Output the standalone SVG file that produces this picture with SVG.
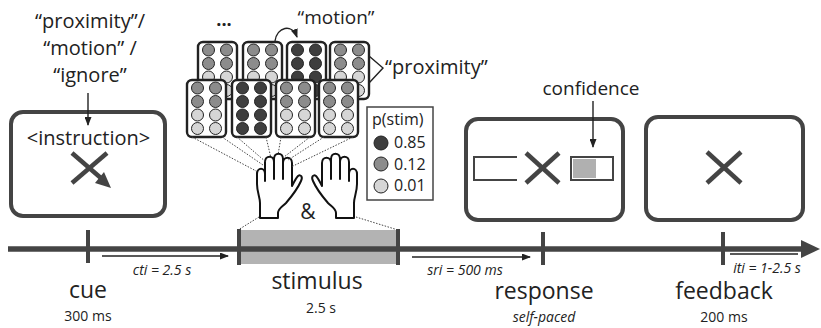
<svg xmlns="http://www.w3.org/2000/svg" xmlns:xlink="http://www.w3.org/1999/xlink" width="821" height="328" viewBox="0 0 821 328">
  <style>
    text { font-family: "Open Sans", "Liberation Sans", sans-serif; fill: #222; }
    .big { font-size: 23px; }
    .mid { font-size: 20px; }
    .small { font-size: 14px; }
    .ital { font-size: 14px; font-style: italic; }
    .box { fill: #fff; stroke: #444; stroke-width: 4; }
    .cross { stroke: #444; stroke-width: 4.5; fill: none; }
    .grid { fill: #fff; stroke: #222; stroke-width: 2.4; }
    .dot { stroke: #222; stroke-width: 1; }
    .d-hi { fill: #3e3e3e; }
    .d-mid { fill: #8c8c8c; }
    .d-lo { fill: #d6d6d6; }
    .thin { stroke: #222; stroke-width: 1.4; fill: none; }
    .dotted { stroke: #444; stroke-width: 1; stroke-dasharray: 1.5 1.5; fill: none; }
    .axis { stroke: #444; stroke-width: 5.5; fill: none; }
    .tick { stroke: #444; stroke-width: 4; }
    .hand { fill: #fff; stroke: #111; stroke-width: 2; stroke-linejoin: round; }
  </style>
  <defs>
    <marker id="head" markerUnits="userSpaceOnUse" markerWidth="9" markerHeight="7" refX="8" refY="3.5" orient="auto">
      <path d="M0,0 L9,3.5 L0,7 z" fill="#222"/>
    </marker>
    <!-- 2x4 stimulus grid: two mid rows, two low rows -->
    <g id="gridMix">
      <rect class="grid" x="0" y="0" width="39" height="57" rx="5"/>
      <circle class="dot d-mid" cx="10.5" cy="8" r="6"/><circle class="dot d-mid" cx="28.5" cy="8" r="6"/>
      <circle class="dot d-mid" cx="10.5" cy="21.5" r="6"/><circle class="dot d-mid" cx="28.5" cy="21.5" r="6"/>
      <circle class="dot d-lo" cx="10.5" cy="35" r="6"/><circle class="dot d-lo" cx="28.5" cy="35" r="6"/>
      <circle class="dot d-lo" cx="10.5" cy="48.5" r="6"/><circle class="dot d-lo" cx="28.5" cy="48.5" r="6"/>
    </g>
    <!-- 2x4 stimulus grid: all high -->
    <g id="gridHigh">
      <rect class="grid" x="0" y="0" width="39" height="57" rx="5"/>
      <circle class="dot d-hi" cx="10.5" cy="8" r="6"/><circle class="dot d-hi" cx="28.5" cy="8" r="6"/>
      <circle class="dot d-hi" cx="10.5" cy="21.5" r="6"/><circle class="dot d-hi" cx="28.5" cy="21.5" r="6"/>
      <circle class="dot d-hi" cx="10.5" cy="35" r="6"/><circle class="dot d-hi" cx="28.5" cy="35" r="6"/>
      <circle class="dot d-hi" cx="10.5" cy="48.5" r="6"/><circle class="dot d-hi" cx="28.5" cy="48.5" r="6"/>
    </g>
    <!-- left hand, palm view, thumb to the right -->
    <path id="hand" class="hand" d="M 260 218 L 260 203 C 260 197 257 192 257 184 L 257 174 C 257 167 265 167 265 174 L 265 181 L 265 162 C 265 155 274 155 274 162 L 274 179 L 274 159 C 274 152 283 152 283 159 L 283 179 L 283 163 C 283 156 292 156 292 163 L 292 186 C 294 182 296 178 298 176 C 301 174 303 177 301 181 C 298 188 292 196 286 203 C 282 207 278 209 278 213 L 278 218 Z"/>
  </defs>

  <!-- timeline -->
  <g id="timeline">
    <rect x="238" y="230" width="160" height="34" fill="#b3b3b3"/>
    <line class="axis" x1="8" y1="249" x2="805" y2="249"/>
    <polygon points="801,240 820,249 801,258" fill="#444"/>
    <line class="tick" x1="88" y1="230" x2="88" y2="263"/>
    <line class="tick" x1="239" y1="229" x2="239" y2="265"/>
    <line class="tick" x1="398" y1="229" x2="398" y2="265"/>
    <line class="tick" x1="543" y1="232" x2="543" y2="265"/>
    <line class="tick" x1="723" y1="232" x2="723" y2="265"/>
  </g>

  <!-- cue -->
  <g id="cue">
    <text class="mid" x="90" y="28" text-anchor="middle">“proximity”/</text>
    <text class="mid" x="90" y="55" text-anchor="middle">“motion” /</text>
    <text class="mid" x="90" y="82" text-anchor="middle">“ignore”</text>
    <rect class="box" x="11" y="112" width="154" height="104" rx="12"/>
    <text class="mid" x="88.5" y="145" text-anchor="middle">&lt;instruction&gt;</text>
    <line class="cross" x1="107" y1="153" x2="72" y2="183"/>
    <line class="cross" x1="72" y1="153" x2="102" y2="179"/>
    <polygon points="111,188 95,183 104,172" fill="#444"/>
    <text class="big" x="88" y="298" text-anchor="middle">cue</text>
    <text class="small" x="88" y="321" text-anchor="middle">300 ms</text>
  </g>

  <!-- stimulus -->
  <g id="stimulus">
    <text x="224" y="26" text-anchor="middle" font-size="18" font-weight="bold">...</text>
    <text x="336" y="24" text-anchor="middle" font-size="19">“motion”</text>
    <text class="mid" x="385" y="74">“proximity”</text>
    <use xlink:href="#gridMix" x="198" y="42"/>
    <use xlink:href="#gridMix" x="243" y="42"/>
    <use xlink:href="#gridHigh" x="287" y="42"/>
    <use xlink:href="#gridMix" x="330" y="42"/>
    <use xlink:href="#gridMix" x="187" y="80"/>
    <use xlink:href="#gridHigh" x="232" y="80"/>
    <use xlink:href="#gridMix" x="276" y="80"/>
    <use xlink:href="#gridMix" x="319" y="80"/>
    <use xlink:href="#hand"/>
    <use xlink:href="#hand" transform="translate(614,0) scale(-1,1)"/>
    <text x="308" y="219" text-anchor="middle" font-size="21">&amp;</text>
    <text class="big" x="317" y="289" text-anchor="middle">stimulus</text>
    <text class="small" x="321" y="313" text-anchor="middle">2.5 s</text>
  </g>

  <!-- probability legend -->
  <g id="legend">
    <rect x="367" y="107" width="66" height="93" fill="#fff" stroke="#444" stroke-width="1.5"/>
    <text x="372" y="125" font-size="16">p(stim)</text>
    <circle class="dot d-hi" cx="381" cy="143" r="7"/>
    <circle class="dot d-mid" cx="381" cy="164" r="7"/>
    <circle class="dot d-lo" cx="381" cy="186" r="7"/>
    <text x="394" y="148" font-size="16">0.85</text>
    <text x="394" y="170" font-size="16">0.12</text>
    <text x="394" y="191" font-size="16">0.01</text>
  </g>

  <!-- response -->
  <g id="response">
    <text x="591" y="95" text-anchor="middle" font-size="19">confidence</text>
    <rect class="box" x="466" y="119" width="157" height="101" rx="12"/>
    <path d="M 517 157 L 474 157 L 474 180 L 517 180" fill="none" stroke="#444" stroke-width="2"/>
    <rect x="571" y="157" width="42" height="23" fill="#fff" stroke="#444" stroke-width="2"/>
    <rect x="573" y="159" width="23" height="19" fill="#b0b0b0"/>
    <line class="cross" x1="526" y1="153" x2="559" y2="183"/>
    <line class="cross" x1="559" y1="153" x2="526" y2="183"/>
    <text class="big" x="544" y="299" text-anchor="middle">response</text>
    <text x="544" y="322" text-anchor="middle" font-size="14" font-style="italic">self-paced</text>
  </g>

  <!-- feedback -->
  <g id="feedback">
    <rect class="box" x="646" y="117" width="157" height="103" rx="12"/>
    <line class="cross" x1="707" y1="152" x2="741" y2="183"/>
    <line class="cross" x1="741" y1="152" x2="707" y2="183"/>
    <text class="big" x="724" y="299" text-anchor="middle">feedback</text>
    <text class="small" x="724" y="322" text-anchor="middle">200 ms</text>
  </g>

  <!-- connectors -->
  <g id="connectors">
    <line class="thin" x1="88" y1="93" x2="88" y2="125" marker-end="url(#head)"/>
    <line class="thin" x1="593" y1="101" x2="593" y2="147" marker-end="url(#head)"/>
    <path class="thin" d="M 275 41 C 277 27 292 23 297 37" marker-end="url(#head)"/>
    <polyline class="thin" points="369,56 383,68 369,83"/>
    <line class="thin" x1="102" y1="256" x2="228" y2="256" marker-end="url(#head)"/>
    <line class="thin" x1="412" y1="257" x2="530" y2="257" marker-end="url(#head)"/>
    <line class="thin" x1="730" y1="254" x2="798" y2="254"/>
    <line class="dotted" x1="192" y1="137" x2="258" y2="172"/>
    <line class="dotted" x1="222" y1="137" x2="263" y2="165"/>
    <line class="dotted" x1="237" y1="137" x2="266" y2="162"/>
    <line class="dotted" x1="266" y1="137" x2="271" y2="158"/>
    <line class="dotted" x1="281" y1="137" x2="278" y2="155"/>
    <line class="dotted" x1="310" y1="137" x2="284" y2="157"/>
    <line class="dotted" x1="324" y1="137" x2="288" y2="160"/>
    <line class="dotted" x1="353" y1="137" x2="291" y2="167"/>
    <line class="dotted" x1="259" y1="217" x2="238" y2="230"/>
    <line class="dotted" x1="356" y1="217" x2="398" y2="230"/>
    <text class="ital" x="162" y="275" text-anchor="middle">cti = 2.5 s</text>
    <text class="ital" x="465" y="275" text-anchor="middle">sri = 500 ms</text>
    <text class="ital" x="767" y="273" text-anchor="middle">iti = 1-2.5 s</text>
  </g>
</svg>
